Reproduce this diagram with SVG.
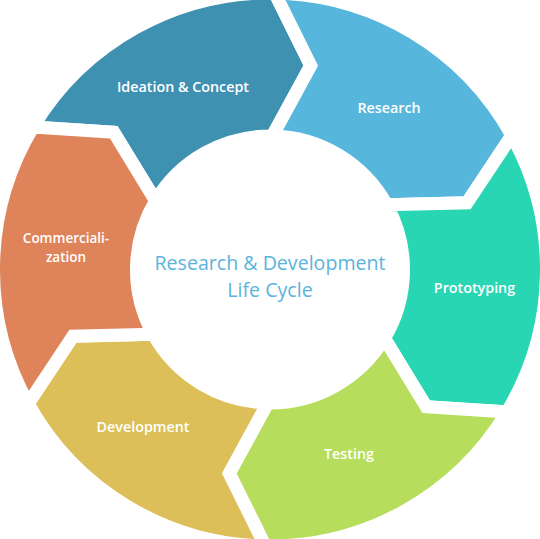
<svg xmlns="http://www.w3.org/2000/svg" width="540" height="539" viewBox="0 0 540 539">
<style>
.seg{stroke:#ffffff;stroke-width:13;stroke-linejoin:miter;stroke-miterlimit:10}
.lbl{font-family:"Open Sans","Liberation Sans",sans-serif;font-weight:600;font-size:14.3px;fill:#ffffff;text-anchor:middle}
.sm{font-size:13.5px}
.title{font-family:"Open Sans","Liberation Sans",sans-serif;font-size:19.6px;fill:#5ab4dc;text-anchor:middle}
</style>
<rect width="540" height="539" fill="#ffffff"/>
<g id="ideation">
<path class="seg" fill="#3f91b2" d="M32.99,127.09 A276.5,276.5 0 0 1 274.83,-6.96 L310.76,65.53 L272.33,136.02 A133.5,133.5 0 0 0 155.57,200.74 L113.74,132.22 Z"/>
<text class="lbl" x="183" y="92">Ideation &amp; Concept</text>
</g>
<g id="research">
<path class="seg" fill="#56b6dc" d="M274.83,-6.96 A276.5,276.5 0 0 1 511.83,135.45 L467.02,202.81 L386.76,204.78 A133.5,133.5 0 0 0 272.33,136.02 L310.76,65.53 Z"/>
<text class="lbl" x="389" y="113">Research</text>
</g>
<g id="prototyping">
<path class="seg" fill="#28d6b4" d="M511.83,135.45 A276.5,276.5 0 0 1 507.01,411.91 L426.26,406.78 L384.43,338.26 A133.5,133.5 0 0 0 386.76,204.78 L467.02,202.81 Z"/>
<text class="lbl" x="474.5" y="292.5">Prototyping</text>
</g>
<g id="testing">
<path class="seg" fill="#b6dd5b" d="M507.01,411.91 A276.5,276.5 0 0 1 265.17,545.96 L229.24,473.47 L267.67,402.98 A133.5,133.5 0 0 0 384.43,338.26 L426.26,406.78 Z"/>
<text class="lbl" x="349" y="459">Testing</text>
</g>
<g id="development">
<path class="seg" fill="#dcbf58" d="M265.17,545.96 A276.5,276.5 0 0 1 28.17,403.55 L72.98,336.19 L153.24,334.22 A133.5,133.5 0 0 0 267.67,402.98 L229.24,473.47 Z"/>
<text class="lbl" x="143" y="432">Development</text>
</g>
<g id="commercialization">
<path class="seg" fill="#df845a" d="M28.17,403.55 A276.5,276.5 0 0 1 32.99,127.09 L113.74,132.22 L155.57,200.74 A133.5,133.5 0 0 0 153.24,334.22 L72.98,336.19 Z"/>
<text class="lbl sm" x="66" y="243"><tspan x="66" y="243">Commerciali-</tspan><tspan x="66" y="261.5">zation</tspan></text>
</g>
<g id="connectors"></g>
<g id="center">
<text class="title" x="270" y="270"><tspan x="270" y="270">Research &amp; Development</tspan><tspan x="270" y="297">Life Cycle</tspan></text>
</g>
</svg>
